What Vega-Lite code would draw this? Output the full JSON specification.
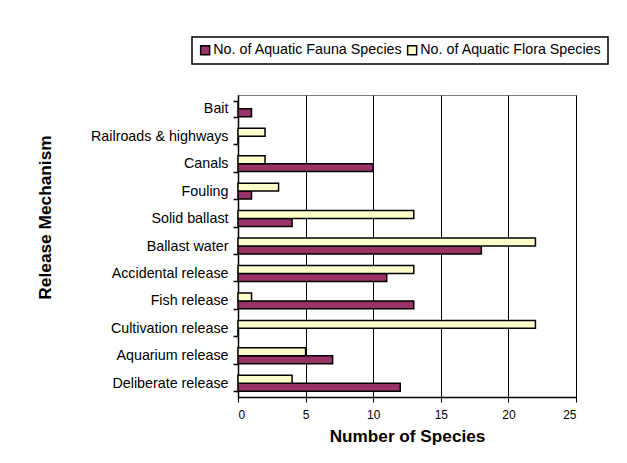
{
  "$schema": "https://vega.github.io/schema/vega-lite/v6.json",
  "autosize": {"type": "none"},
  "width": 338,
  "height": 302,
  "padding": {"left": 238, "top": 95, "right": 51, "bottom": 66},
  "background": "white",
  "data": {
    "values": [
      {"mechanism": "Bait", "series": "No. of Aquatic Fauna Species", "count": 1},
      {"mechanism": "Bait", "series": "No. of Aquatic Flora Species", "count": 0},
      {"mechanism": "Railroads & highways", "series": "No. of Aquatic Fauna Species", "count": 0},
      {"mechanism": "Railroads & highways", "series": "No. of Aquatic Flora Species", "count": 2},
      {"mechanism": "Canals", "series": "No. of Aquatic Fauna Species", "count": 10},
      {"mechanism": "Canals", "series": "No. of Aquatic Flora Species", "count": 2},
      {"mechanism": "Fouling", "series": "No. of Aquatic Fauna Species", "count": 1},
      {"mechanism": "Fouling", "series": "No. of Aquatic Flora Species", "count": 3},
      {"mechanism": "Solid ballast", "series": "No. of Aquatic Fauna Species", "count": 4},
      {"mechanism": "Solid ballast", "series": "No. of Aquatic Flora Species", "count": 13},
      {"mechanism": "Ballast water", "series": "No. of Aquatic Fauna Species", "count": 18},
      {"mechanism": "Ballast water", "series": "No. of Aquatic Flora Species", "count": 22},
      {"mechanism": "Accidental release", "series": "No. of Aquatic Fauna Species", "count": 11},
      {"mechanism": "Accidental release", "series": "No. of Aquatic Flora Species", "count": 13},
      {"mechanism": "Fish release", "series": "No. of Aquatic Fauna Species", "count": 13},
      {"mechanism": "Fish release", "series": "No. of Aquatic Flora Species", "count": 1},
      {"mechanism": "Cultivation release", "series": "No. of Aquatic Fauna Species", "count": 0},
      {"mechanism": "Cultivation release", "series": "No. of Aquatic Flora Species", "count": 22},
      {"mechanism": "Aquarium release", "series": "No. of Aquatic Fauna Species", "count": 7},
      {"mechanism": "Aquarium release", "series": "No. of Aquatic Flora Species", "count": 5},
      {"mechanism": "Deliberate release", "series": "No. of Aquatic Fauna Species", "count": 12},
      {"mechanism": "Deliberate release", "series": "No. of Aquatic Flora Species", "count": 4}
    ]
  },
  "mark": {"type": "bar", "stroke": "black", "strokeWidth": 1.5},
  "encoding": {
    "y": {
      "field": "mechanism",
      "type": "nominal",
      "sort": ["Bait", "Railroads & highways", "Canals", "Fouling", "Solid ballast", "Ballast water", "Accidental release", "Fish release", "Cultivation release", "Aquarium release", "Deliberate release"],
      "scale": {"paddingInner": 0.42, "paddingOuter": 0.21},
      "axis": {
        "title": "Release Mechanism",
        "titleFont": "Liberation Sans",
        "titleFontSize": 17.3,
        "titleFontWeight": "bold",
        "titleColor": "black",
        "titleX": -193,
        "titleY": 122,
        "titleAngle": -90,
        "titleAlign": "center",
        "titleBaseline": "middle",
        "labelFont": "Liberation Sans",
        "labelFontSize": 14.3,
        "labelColor": "black",
        "labelPadding": 5,
        "tickBand": "extent",
        "tickSize": 5,
        "tickColor": "black",
        "tickWidth": 1.5,
        "domainColor": "black",
        "domainWidth": 1.5,
        "grid": false
      }
    },
    "yOffset": {
      "field": "series",
      "type": "nominal",
      "scale": {"domain": ["No. of Aquatic Flora Species", "No. of Aquatic Fauna Species"], "paddingInner": 0, "paddingOuter": 0}
    },
    "x": {
      "field": "count",
      "type": "quantitative",
      "scale": {"domain": [0, 25], "nice": false},
      "axis": {
        "title": "Number of Species",
        "titleFont": "Liberation Sans",
        "titleFontSize": 17.2,
        "titleFontWeight": "bold",
        "titleColor": "black",
        "titlePadding": 7,
        "values": [0, 5, 10, 15, 20, 25],
        "labelFont": "Liberation Sans",
        "labelFontSize": 12,
        "labelColor": "black",
        "labelPadding": 7,
        "tickSize": 5,
        "tickColor": "black",
        "domainColor": "black",
        "domainWidth": 1.5,
        "grid": true,
        "gridColor": "black",
        "gridWidth": 1
      }
    },
    "fill": {
      "field": "series",
      "type": "nominal",
      "scale": {"domain": ["No. of Aquatic Fauna Species", "No. of Aquatic Flora Species"], "range": ["#993366", "#FFFFCC"]},
      "legend": {
        "title": null,
        "orient": "none",
        "direction": "horizontal",
        "legendX": -46,
        "legendY": -58,
        "strokeColor": "black",
        "padding": 6,
        "labelFont": "Liberation Sans",
        "labelFontSize": 14.3,
        "labelColor": "black",
        "labelLimit": 0,
        "labelExpr": "datum.label == 'No. of Aquatic Flora Species' ? datum.label + '    ' : datum.label",
        "symbolType": "square",
        "symbolSize": 81,
        "symbolStrokeColor": "black",
        "symbolStrokeWidth": 1.5,
        "symbolOffset": 0,
        "labelOffset": 1,
        "columnPadding": 1
      }
    }
  },
  "config": {
    "view": {"stroke": "#808080", "strokeWidth": 1},
    "legend": {"strokeWidth": 1.5}
  }
}
